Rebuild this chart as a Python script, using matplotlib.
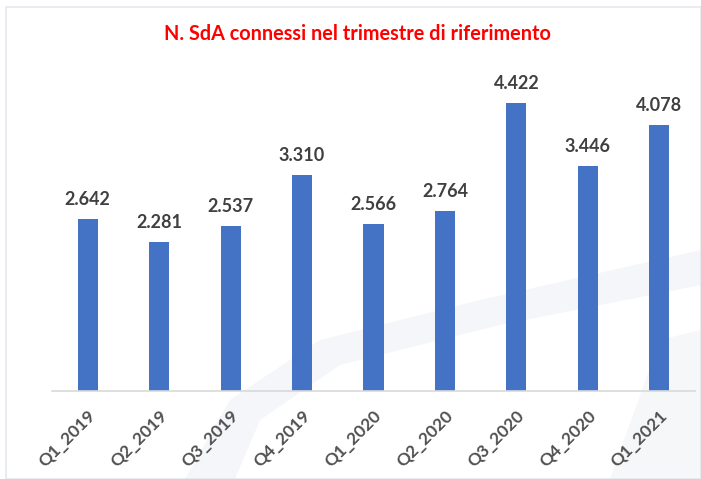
import matplotlib.pyplot as plt
from matplotlib.patches import Rectangle, Polygon

trimestri = ["Q1_2019", "Q2_2019", "Q3_2019", "Q4_2019", "Q1_2020",
             "Q2_2020", "Q3_2020", "Q4_2020", "Q1_2021"]
sda_connessi = [2642, 2281, 2537, 3310, 2566, 2764, 4422, 3446, 4078]
etichette = ["2.642", "2.281", "2.537", "3.310", "2.566",
             "2.764", "4.422", "3.446", "4.078"]

W, H = 701, 479
fig = plt.figure(figsize=(W / 100, H / 100), dpi=100)
fig.patch.set_facecolor("white")


def px(pts):
    return [(a / W, 1 - b / H) for a, b in pts]


# sfondo: fascia chiara decorativa
fig.add_artist(Polygon(px([(185, 479), (230, 400), (320, 340), (480, 300), (701, 250),
                           (701, 285), (500, 325), (340, 365), (260, 420), (235, 479)]),
                       closed=True, transform=fig.transFigure, facecolor="#F4F6F9",
                       edgecolor="none", zorder=0))
fig.add_artist(Polygon(px([(610, 479), (660, 340), (701, 330), (701, 479)]),
                       closed=True, transform=fig.transFigure, facecolor="#F6F7F9",
                       edgecolor="none", zorder=0))
# cornice leggera
fig.add_artist(Rectangle((6 / W, 0), 1 - 6 / W, 1 - 7 / H, transform=fig.transFigure,
                         fill=False, edgecolor="#E4E8EE", linewidth=1.2))

ax = fig.add_axes([52 / W, 1 - 391 / H, (695 - 52) / W, (391 - 65) / H])
ax.patch.set_alpha(0)
x = range(len(trimestri))
ax.bar(x, sda_connessi, width=0.28, color="#4472C4")
ax.set_xlim(-0.5, len(trimestri) - 0.5)
ax.set_ylim(0, 5000)

for i, v in enumerate(sda_connessi):
    ax.text(i, v + 170, etichette[i], ha="center", va="bottom",
            fontsize=13, fontweight="bold", color="#404040", family="Lato")

ax.set_xticks(list(x))
ax.set_xticklabels(trimestri, rotation=45, ha="right", rotation_mode="anchor",
                   fontsize=12.5, fontweight="bold", color="#505050", family="Lato")
ax.tick_params(axis="x", length=0, pad=12)
ax.set_yticks([])
for s in ["top", "right", "left"]:
    ax.spines[s].set_visible(False)
ax.spines["bottom"].set_color("#D9D9D9")
ax.spines["bottom"].set_linewidth(1.2)

fig.text(357 / W, 1 - 34 / H, "N. SdA connessi nel trimestre di riferimento",
         ha="center", va="center", fontsize=14.3, fontweight="bold",
         color="#FF0000", family="Lato")

plt.savefig("out.png", dpi=100)
